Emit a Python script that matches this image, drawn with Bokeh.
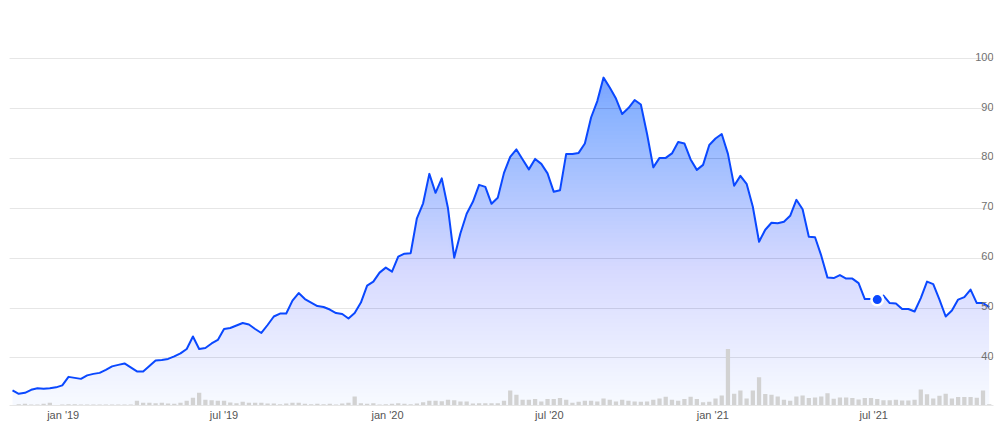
from datetime import datetime, timedelta
import numpy as np
from bokeh.plotting import figure
from bokeh.models import Range1d, FixedTicker, Grid
from bokeh.core.properties import value
from bokeh.embed import file_html
from bokeh.resources import INLINE

# ---------------- data (weekly) ----------------
start_date = datetime(2018, 11, 5)

price = [
    33.5, 32.8, 33.0, 33.6, 33.9, 33.8, 33.9, 34.1, 34.5, 36.2,
    36.0, 35.8, 36.5, 36.8, 37.0, 37.6, 38.3, 38.6, 38.9, 38.1,
    37.3, 37.3, 38.4, 39.5, 39.6, 39.8, 40.3, 40.9, 41.8, 44.3,
    41.8, 42.0, 42.9, 43.6, 45.8, 46.0, 46.5, 47.0, 46.7, 45.8,
    45.0, 46.6, 48.3, 48.9, 48.9, 51.5, 53.0, 51.8, 51.1, 50.4,
    50.2, 49.7, 49.0, 48.8, 47.9, 49.0, 51.1, 54.5, 55.3, 57.1,
    58.1, 57.3, 60.3, 60.9, 61.0, 68.0, 71.0, 76.9, 73.1, 76.0,
    70.0, 60.1, 65.0, 68.9, 71.3, 74.7, 74.3, 70.9, 72.1, 77.1,
    80.3, 81.8, 79.8, 77.8, 79.9, 78.9, 77.0, 73.3, 73.6, 80.9,
    80.9, 81.1, 83.0, 88.2, 91.5, 96.2, 94.2, 92.0, 88.9, 90.1,
    91.7, 90.8, 84.9, 78.2, 80.1, 80.1, 81.0, 83.3, 83.0, 79.8,
    77.7, 78.7, 82.7, 84.0, 84.9, 80.9, 74.5, 76.5, 74.9, 70.3,
    63.3, 65.7, 67.1, 67.0, 67.3, 68.5, 71.7, 69.8, 64.3, 64.2,
    60.5, 56.1, 56.0, 56.6, 55.9, 55.9, 55.0, 51.8, 51.8, 51.7,
    52.5, 51.0, 50.9, 49.8, 49.8, 49.3, 52.0, 55.3, 54.8, 51.7,
    48.3, 49.5, 51.7, 52.2, 53.7, 51.0, 51.0, 50.2,
]

# weekly volume (arbitrary units, 100k shares)
volume = [
    0.5, 1.3, 1.7, 1.0, 1.0, 1.7, 2.7, 0.5, 1.0, 1.3,
    1.3, 1.0, 1.0, 1.0, 1.0, 1.0, 1.0, 1.0, 1.0, 1.0,
    4.7, 2.7, 2.7, 2.3, 2.7, 2.0, 1.7, 2.7, 4.7, 7.7,
    12.7, 5.7, 5.3, 4.7, 4.7, 3.0, 2.3, 3.7, 2.7, 2.7,
    2.7, 2.0, 2.0, 1.3, 2.0, 2.7, 2.7, 1.7, 1.3, 1.7,
    1.3, 1.7, 1.0, 2.0, 2.7, 9.0, 2.3, 1.7, 2.3, 1.0,
    1.3, 1.7, 2.3, 1.7, 1.3, 2.0, 3.3, 4.7, 4.7, 4.3,
    5.7, 5.3, 4.0, 4.0, 2.0, 2.3, 2.3, 2.3, 2.3,
    4.7, 14.7, 10.7, 5.7, 5.7, 6.3, 4.0, 6.3, 6.3, 7.3,
    5.7, 2.7, 3.7, 4.7, 4.7, 4.0, 7.0, 5.7, 4.0, 5.7,
    4.7, 4.0, 3.7, 4.0, 5.7, 7.0, 8.7, 5.7, 4.7, 6.3,
    8.7, 6.3, 3.3, 3.7, 7.0, 10.0, 55.7, 11.7, 14.7, 7.0,
    14.7, 28.0, 11.3, 10.7, 9.0, 5.7, 4.7, 9.0, 10.0, 7.3,
    8.0, 9.0, 12.0, 6.7, 8.0, 8.0, 7.3, 6.0, 7.3, 7.3,
    6.3, 5.3, 5.3, 5.7, 5.0, 5.0, 5.7, 15.7, 11.0, 7.0,
    9.7, 11.7, 7.0, 8.3, 8.3, 8.3, 7.7, 14.7, 1.3,
]

dates = [start_date + timedelta(weeks=i) for i in range(len(price))]

x_tick_dates = [datetime(2019, 1, 1), datetime(2019, 7, 1), datetime(2020, 1, 1),
                datetime(2020, 7, 1), datetime(2021, 1, 1), datetime(2021, 7, 1)]
x_tick_labels = ["jan '19", "jul '19", "jan '20", "jul '20", "jan '21", "jul '21"]

y_ticks = [40, 50, 60, 70, 80, 90, 100]
y_tick_labels = ["40", "50", "60", "70", "80", "90", "100"]

marker_index = 139

# ---------------- styling ----------------
BLUE = "#0a48ff"
FONT = "Liberation Sans"


def to_ms(d):
    return (d - datetime(1970, 1, 1)).total_seconds() * 1000.0


x_start = datetime(2019, 1, 1) - timedelta(days=60.4)
x_end = datetime(2019, 1, 1) + timedelta(days=1046.8)
y_lo, y_hi = 30.46, 111.66

p = figure(width=1000, height=423, x_axis_type="datetime", y_axis_location=None,
           x_range=Range1d(x_start, x_end), y_range=Range1d(y_lo, y_hi),
           output_backend="svg", toolbar_location=None,
           border_fill_color="white", background_fill_color="white",
           min_border_left=9, min_border_right=7, min_border_top=0, min_border_bottom=17)
p.outline_line_color = None
p.xgrid.visible = False
p.extra_y_ranges = {"vol": Range1d(0, 400)}

grid = Grid(dimension=1, ticker=FixedTicker(ticks=y_ticks),
            grid_line_color="#e6e6e6", grid_line_width=1)
p.add_layout(grid)

xa = p.xaxis[0]
tick_ms = [to_ms(d) for d in x_tick_dates]
xa.ticker = FixedTicker(ticks=tick_ms)
xa.major_label_overrides = {t: lab for t, lab in zip(tick_ms, x_tick_labels)}
xa.axis_line_color = "#e6e6e6"
xa.major_tick_line_color = None
xa.minor_tick_line_color = None
xa.major_tick_out = 0
xa.minor_tick_out = 0
xa.major_label_standoff = 3
xa.major_label_text_font = FONT
xa.major_label_text_font_size = "11px"
xa.major_label_text_color = "#555555"

# ---------------- gradient area (stacked translucent bands) ----------------
pr = np.array(price)
top = pr.max()
A0, A1 = 0.035, 0.43
levels = np.linspace(y_lo, top, 81)


def alpha_at(v):
    t = (v - y_lo) / (top - y_lo)
    return A0 + (A1 - A0) * t ** 1.3


prev = 0.0
for k, lo in enumerate(levels[:-1]):
    A = alpha_at(lo)
    a = 1 - (1 - A) / (1 - prev)
    prev = A
    p.varea(x=dates, y1=np.minimum(pr, lo), y2=pr, fill_color=BLUE, fill_alpha=a)

# ---------------- volume bars ----------------
p.vbar(x=dates, top=volume, bottom=0, width=timedelta(days=4.8).total_seconds() * 1000,
       y_range_name="vol", fill_color="#d2d2d2", line_color=None)

# ---------------- price line ----------------
p.line(dates, price, line_color=BLUE, line_width=2, line_join="round")

p.scatter(x=[dates[marker_index]], y=[price[marker_index]], size=11.5, marker="circle",
          fill_color=BLUE, line_color="white", line_width=2.5)

# ---------------- y labels inside the plot ----------------
p.text(x=[x_end] * len(y_ticks), y=y_ticks, text=y_tick_labels,
       text_align="right", text_baseline="alphabetic", y_offset=-2,
       text_font=value(FONT), text_font_size="11px", text_color="#707070")

open("out.html", "w").write(file_html(p, INLINE))
